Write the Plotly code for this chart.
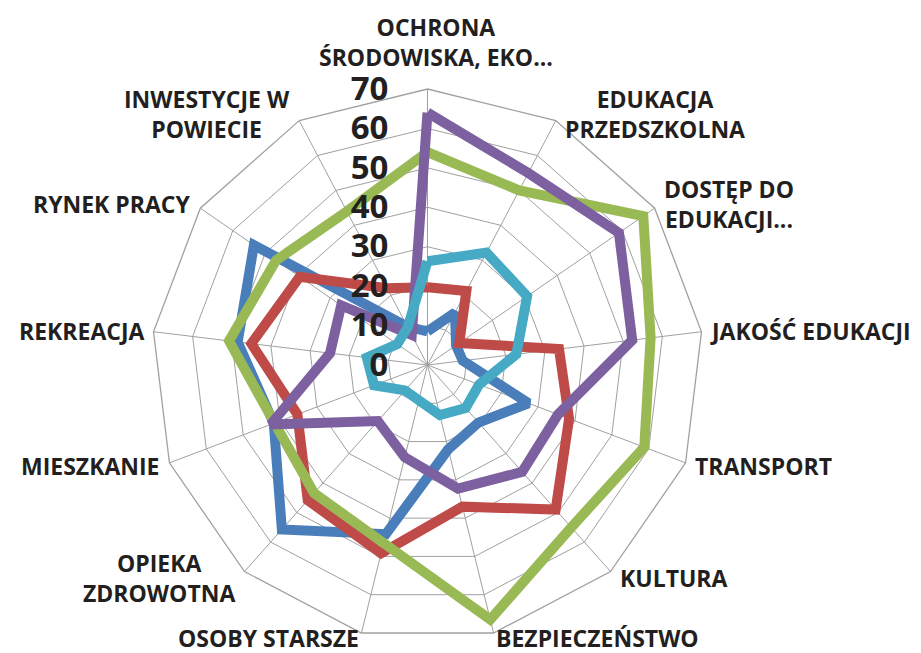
import math
import plotly.graph_objects as go

categories = ["OCHRONA ŚRODOWISKA, EKO...", "EDUKACJA PRZEDSZKOLNA", "DOSTĘP DO EDUKACJI...",
              "JAKOŚĆ EDUKACJI", "TRANSPORT", "KULTURA", "BEZPIECZEŃSTWO", "OSOBY STARSZE",
              "OPIEKA ZDROWOTNA", "MIESZKANIE", "REKREACJA", "RYNEK PRACY", "INWESTYCJE W POWIECIE"]
category_labels = ["OCHRONA<br>ŚRODOWISKA, EKO...", "EDUKACJA<br>PRZEDSZKOLNA", "DOSTĘP DO<br>EDUKACJI...",
                   "JAKOŚĆ EDUKACJI", "TRANSPORT", "KULTURA", "BEZPIECZEŃSTWO", "OSOBY STARSZE",
                   "OPIEKA<br>ZDROWOTNA", "MIESZKANIE", "REKREACJA", "RYNEK PRACY", "INWESTYCJE W<br>POWIECIE"]

series_blue = [8.5, 15, 8.8, 9, 27.4, 19.5, 22, 44.2, 55.7, 41.7, 48.5, 53.5, 11]
series_red = [19.7, 21.2, 9.8, 33.6, 38.4, 49, 37, 49.2, 45.8, 35.3, 45, 39.4, 22]
series_green = [54, 50, 66.5, 57, 58.8, 55, 66.5, 46.5, 43.4, 41.5, 50.7, 46.7, 44]
series_purple = [64, 55, 59, 52.3, 35.4, 36.2, 32.3, 24.1, 19, 42.5, 24.9, 26.6, 8.6]
series_cyan = [26.3, 32.2, 30.7, 22.7, 14, 14.6, 13.1, 9.2, 8.6, 14.5, 15.5, 9.3, 10.8]

radial_ticks = [0, 10, 20, 30, 40, 50, 60, 70]

series = [
    ("Seria 1", series_blue, "#4A7EBB"),
    ("Seria 2", series_red, "#BE4B48"),
    ("Seria 3", series_green, "#98B954"),
    ("Seria 4", series_purple, "#7D60A0"),
    ("Seria 5", series_cyan, "#46AAC5"),
]

fig = go.Figure()
for name, vals, color in series:
    fig.add_trace(go.Scatterpolar(
        r=vals + vals[:1],
        theta=categories + categories[:1],
        mode="lines",
        name=name,
        line=dict(color=color, width=10, shape="linear"),
        showlegend=False,
    ))

grid_color = "#A0A0A0"
txt_color = "#231F20"

# page has an 8px body margin; figure sized to fit the 921x653 window
W, H = 913, 645
cx, cy, R = 419.5, 357, 276

# category labels placed just outside each outer-polygon vertex (Excel-like placement)
annotations = []
n = len(categories)
for i, lab in enumerate(category_labels):
    a = math.radians(i * 360.0 / n)
    dx, dy = math.sin(a), math.cos(a)
    vx, vy = cx + R * dx, cy - R * dy
    if abs(dx) < 0.1:  # top
        x, y, xa, ya = vx + 8, vy - 14, "center", "bottom"
    elif dy < -0.9:  # bottom pair
        x, y = vx, vy - 13
        xa, ya = ("left" if dx > 0 else "right"), "top"
    else:
        x, y = vx + 7 * (1 if dx > 0 else -1), vy - 8 * dy
        xa, ya = ("left" if dx > 0 else "right"), "middle"
    annotations.append(dict(
        text=lab, x=x / W, y=1 - y / H, xref="paper", yref="paper",
        xanchor=xa, yanchor=ya, align="center", showarrow=False,
        font=dict(family="Open Sans", size=23, color=txt_color, weight="bold"),
    ))

fig.update_layout(
    width=W, height=H,
    margin=dict(l=0, r=0, t=0, b=0),
    paper_bgcolor="white",
    plot_bgcolor="white",
    font=dict(family="Open Sans", color=txt_color),
    annotations=annotations,
    polar=dict(
        domain=dict(x=[(cx - R) / W, (cx + R) / W], y=[(H - cy - R) / H, (H - cy + R) / H]),
        bgcolor="white",
        gridshape="linear",
        angularaxis=dict(
            type="category",
            categoryorder="array",
            categoryarray=categories,
            rotation=90,
            direction="clockwise",
            showline=True,
            linecolor=grid_color,
            linewidth=1.3,
            showgrid=True,
            gridcolor=grid_color,
            gridwidth=1.3,
            ticks="",
            showticklabels=False,
        ),
        radialaxis=dict(
            range=[0, 70],
            tickvals=radial_ticks,
            ticktext=[str(v) for v in radial_ticks],
            angle=90,
            side="counterclockwise",
            showline=False,
            showgrid=True,
            gridcolor=grid_color,
            gridwidth=1.3,
            ticks="outside",
            ticklen=27,
            tickcolor="rgba(0,0,0,0)",
            tickangle=90,
            tickfont=dict(family="Open Sans", size=33, color=txt_color, weight="bold"),
        ),
    ),
)

fig.write_html("out.html")
